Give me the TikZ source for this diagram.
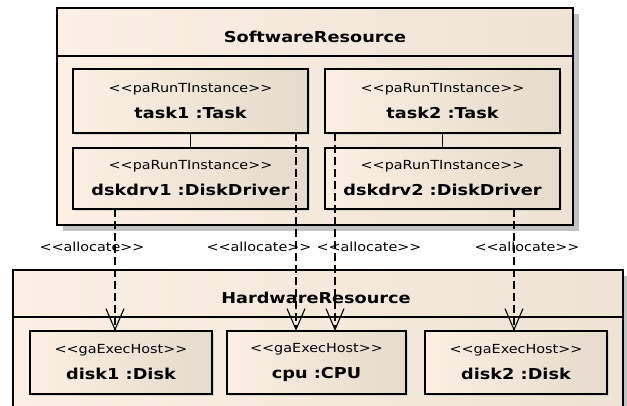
\documentclass[tikz,border=0pt]{standalone}
\usepackage{fontspec}
\usetikzlibrary{arrows.meta,shadows}
\newfontfamily\stfont[FakeStretch=1.15]{DejaVu Sans}
\newfontfamily\nmfont[FakeStretch=1.18]{DejaVu Sans Bold}
\definecolor{cream}{HTML}{FBF0E3}
\definecolor{creamdark}{HTML}{E4DBCC}
\definecolor{shadowgray}{HTML}{C2C2C2}
\newcommand{\stt}{\stfont\fontsize{12.5}{16}\selectfont}
\newcommand{\nmm}{\nmfont\fontsize{15}{17}\selectfont}
\tikzset{
  outerbox/.style={draw=black, line width=1.3pt, outer sep=0pt, left color=cream, right color=creamdark!60!cream,
     drop shadow={shadow xshift=6pt, shadow yshift=-6pt, opacity=1, fill=shadowgray}},
  inbox/.style={draw=black, line width=1.2pt, outer sep=0pt, left color=cream, right color=creamdark,
     align=center, inner sep=0pt,
     drop shadow={shadow xshift=2pt, shadow yshift=-2pt, opacity=1, fill=shadowgray!70}},
  titletext/.style={font=\nmm, inner sep=0pt},
  lab/.style={font=\stt, inner sep=0pt},
  solidc/.style={draw=black, line width=1.1pt},
  alloc/.style={draw=black, line width=1.1pt, dash pattern=on 8pt off 4pt,
     -{Straight Barb[length=21pt,width=18pt,line width=1.1pt]}},
}
\begin{document}
\begin{tikzpicture}[x=1pt,y=-1pt]
\useasboundingbox (0,0) rectangle (627,405);
\clip (0,0) rectangle (627,405);
\fill[white] (0,0) rectangle (627,405);
% Software resource
\node[outerbox, minimum width=516pt, minimum height=217pt] (sw) at (315,116.5) {};
\coordinate (swh) at (0,56);
\draw[line width=1.3pt] (sw.west |- swh) -- (sw.east |- swh);
\node[titletext] (swt) at (315,37) {SoftwareResource};
\node[inbox, minimum width=235pt, minimum height=64pt] (task1) at (190.5,101)
  {\stt <<paRunTInstance>>\\[11pt]\nmm task1 :Task};
\node[inbox, minimum width=235pt, minimum height=61pt] (dskdrv1) at (190.5,178.5)
  {\stt <<paRunTInstance>>\\[11pt]\nmm dskdrv1 :DiskDriver};
\node[inbox, minimum width=235pt, minimum height=64pt] (task2) at (442.5,101)
  {\stt <<paRunTInstance>>\\[11pt]\nmm task2 :Task};
\node[inbox, minimum width=235pt, minimum height=61pt] (dskdrv2) at (442.5,178.5)
  {\stt <<paRunTInstance>>\\[11pt]\nmm dskdrv2 :DiskDriver};
\draw[solidc] (task1.south) -- (dskdrv1.north);
\draw[solidc] (task2.south) -- (dskdrv2.north);
% Hardware resource
\node[outerbox, minimum width=610pt, minimum height=160pt] (hw) at (318,350) {};
\coordinate (hwh) at (0,317);
\draw[line width=1.3pt] (hw.west |- hwh) -- (hw.east |- hwh);
\node[titletext] (hwt) at (316,298) {HardwareResource};
\node[inbox, minimum width=182pt, minimum height=63pt] (disk1) at (121,362.5)
  {\stt <<gaExecHost>>\\[11pt]\nmm disk1 :Disk};
\node[inbox, minimum width=179pt, minimum height=63pt] (cpu) at (316.5,362.5)
  {\stt <<gaExecHost>>\\[11pt]\nmm cpu :CPU};
\node[inbox, minimum width=182pt, minimum height=63pt] (disk2) at (516,362.5)
  {\stt <<gaExecHost>>\\[11pt]\nmm disk2 :Disk};
% allocations
\coordinate (xa) at (115,0);
\coordinate (xb) at (296,0);
\coordinate (xc) at (335,0);
\coordinate (xd) at (514,0);
\draw[alloc] (dskdrv1.south -| xa) -- (disk1.north -| xa);
\draw[alloc] (task1.south -| xb) -- (cpu.north -| xb);
\draw[alloc] (task2.south -| xc) -- (cpu.north -| xc);
\draw[alloc] (dskdrv2.south -| xd) -- (disk2.north -| xd);
\node[lab] (l1) at (92,247) {<<allocate>>};
\node[lab] (l2) at (259,247) {<<allocate>>};
\node[lab] (l3) at (369,247) {<<allocate>>};
\node[lab] (l4) at (527,247) {<<allocate>>};
\end{tikzpicture}
\end{document}
